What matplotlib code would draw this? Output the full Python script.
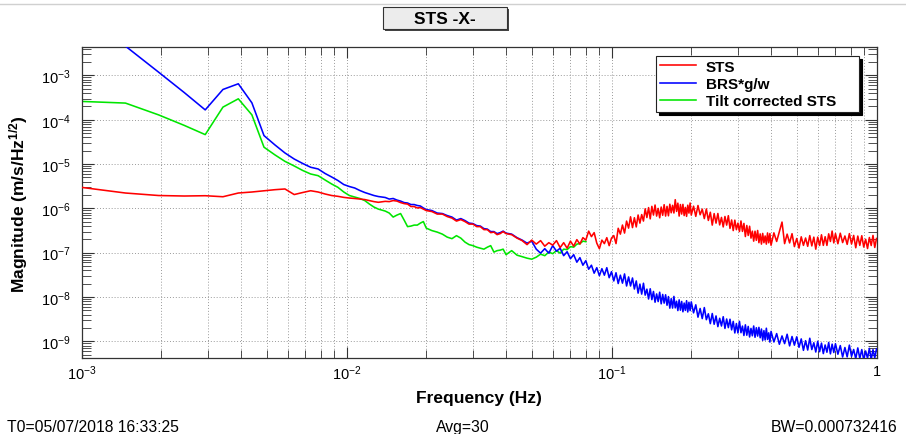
import matplotlib
matplotlib.use("Agg")
import matplotlib.pyplot as plt
from matplotlib.patches import Rectangle
from matplotlib.lines import Line2D
from matplotlib.ticker import LogLocator, FixedLocator, FixedFormatter, NullFormatter

# ---------------------------------------------------------------- data
# coarse FFT bins at the low end (spacing 1/2048 Hz)
freq_bins = [0.000977, 0.001465, 0.001953, 0.002441, 0.002930, 0.003418, 0.003906,
             0.004395, 0.004883, 0.005371, 0.005859, 0.006348, 0.006836, 0.007324,
             0.007813, 0.008301, 0.008789, 0.009277, 0.009766, 0.010254, 0.010742,
             0.011230, 0.011719, 0.012207, 0.012695, 0.013184]

sts_bins = [3.03e-6, 2.22e-6, 1.95e-6, 1.90e-6, 1.93e-6, 1.83e-6, 2.22e-6, 2.34e-6,
            2.50e-6, 2.64e-6, 2.74e-6, 2.05e-6, 2.28e-6, 2.50e-6, 2.34e-6, 2.11e-6,
            1.95e-6, 1.87e-6, 1.77e-6, 1.71e-6, 1.67e-6, 1.62e-6, 1.58e-6, 1.50e-6,
            1.42e-6, 1.37e-6]

brs_bins = [1.5e-2, 4.6e-3, 1.19e-3, 4.12e-4, 1.67e-4, 4.83e-4, 6.49e-4, 2.41e-4,
            4.39e-5, 2.70e-5, 1.78e-5, 1.30e-5, 1.03e-5, 8.47e-6, 7.75e-6, 6.13e-6,
            5.11e-6, 4.26e-6, 3.45e-6, 3.11e-6, 2.88e-6, 2.53e-6, 2.28e-6, 2.11e-6,
            1.95e-6, 1.85e-6]

tilt_bins = [2.61e-4, 2.38e-4, 1.29e-4, 7.47e-5, 4.62e-5, 1.93e-4, 2.97e-4, 1.29e-4,
             2.40e-5, 1.61e-5, 1.15e-5, 9.06e-6, 7.16e-6, 5.97e-6, 5.47e-6, 4.37e-6,
             3.55e-6, 2.99e-6, 2.34e-6, 1.95e-6, 1.80e-6, 1.67e-6, 1.50e-6, 1.25e-6,
             1.07e-6, 9.63e-7]

# 0.014 - 0.1 Hz
freq_mid = [0.0140, 0.0145, 0.0150, 0.0155, 0.0160, 0.0165, 0.0170, 0.0175, 0.0180,
            0.0185, 0.0190, 0.0195, 0.0200,
            0.021, 0.022, 0.023, 0.024, 0.025, 0.026, 0.027, 0.028, 0.029, 0.030,
            0.031, 0.032, 0.033, 0.034, 0.035, 0.036, 0.037, 0.038, 0.039, 0.040,
            0.042, 0.044, 0.046, 0.048, 0.050, 0.052, 0.054, 0.056, 0.058, 0.060,
            0.062, 0.064, 0.066, 0.068, 0.070, 0.072, 0.074, 0.076, 0.078, 0.080,
            0.082, 0.084, 0.086, 0.088, 0.090, 0.092, 0.094, 0.096, 0.098, 0.100]

sts_mid = [1.44e-6, 1.42e-6, 1.50e-6, 1.46e-6, 1.35e-6, 1.28e-6, 1.25e-6, 1.10e-6,
           1.10e-6, 1.02e-6, 1.04e-6, 9.64e-7, 8.92e-7,
           8.47e-7, 7.43e-7, 7.43e-7, 6.52e-7, 6.03e-7, 5.16e-7, 5.58e-7, 5.03e-7,
           4.41e-7, 4.41e-7, 3.87e-7, 3.87e-7, 3.31e-7, 3.31e-7, 2.83e-7, 2.91e-7,
           2.55e-7, 2.69e-7, 2.99e-7, 2.69e-7,
           2.55e-7, 2.13e-7, 1.87e-7, 1.52e-7, 1.92e-7, 1.56e-7, 1.87e-7, 1.40e-7,
           1.68e-7, 1.48e-7, 1.87e-7, 1.30e-7, 1.68e-7, 1.26e-7, 1.82e-7, 1.40e-7,
           1.97e-7, 1.56e-7, 2.18e-7, 1.92e-7, 3.06e-7, 2.30e-7, 2.83e-7, 1.64e-7,
           1.23e-7, 1.92e-7, 1.60e-7, 2.18e-7, 1.44e-7, 2.13e-7]

brs_mid = [1.76e-6, 1.62e-6, 1.67e-6, 1.54e-6, 1.46e-6, 1.35e-6, 1.32e-6, 1.22e-6,
           1.22e-6, 1.16e-6, 1.13e-6, 1.02e-6, 9.39e-7,
           8.92e-7, 7.83e-7, 7.63e-7, 6.87e-7, 6.36e-7, 5.44e-7, 5.88e-7, 5.30e-7,
           4.65e-7, 4.53e-7, 4.08e-7, 3.98e-7, 3.49e-7, 3.40e-7, 2.99e-7, 2.99e-7,
           2.69e-7, 2.83e-7, 3.06e-7, 2.76e-7,
           2.62e-7, 2.18e-7, 1.92e-7, 1.64e-7, 1.82e-7, 1.20e-7, 9.74e-8, 1.23e-7,
           9.74e-8, 1.44e-7, 1.08e-7, 1.26e-7, 8.55e-8, 1.05e-7, 7.31e-8, 9.01e-8,
           6.10e-8, 7.71e-8, 5.21e-8, 6.59e-8, 4.23e-8, 5.21e-8, 3.44e-8, 4.58e-8,
           3.02e-8, 4.35e-8, 3.10e-8, 4.58e-8, 2.72e-8, 3.72e-8]

# tilt-corrected STS follows the STS trace above ~0.08 Hz
tilt_mid = [8.69e-7, 7.83e-7, 6.36e-7, 7.05e-7, 7.63e-7, 5.44e-7, 3.87e-7, 3.98e-7,
            4.19e-7, 4.19e-7, 4.65e-7, 5.03e-7, 3.58e-7,
            3.15e-7, 2.91e-7, 2.62e-7, 2.24e-7, 2.07e-7, 2.42e-7, 2.13e-7, 1.73e-7,
            1.52e-7, 1.44e-7, 1.33e-7, 1.26e-7, 1.20e-7, 1.33e-7, 1.44e-7, 1.03e-7,
            1.11e-7, 1.14e-7, 1.20e-7, 9.01e-8,
            1.11e-7, 8.78e-8, 8.12e-8, 7.51e-8, 7.13e-8, 7.91e-8, 9.25e-8, 8.55e-8,
            1.03e-7, 9.49e-8, 1.11e-7, 9.74e-8, 1.20e-7, 1.17e-7, 1.37e-7, 1.33e-7,
            1.56e-7, 1.60e-7, 1.82e-7, 1.77e-7]

# 0.1 - 1 Hz, where the noise fills a band
freq_hi = [0.102, 0.104, 0.106, 0.108, 0.110, 0.112, 0.114, 0.116, 0.118, 0.120,
           0.122, 0.124, 0.126, 0.128, 0.130, 0.132, 0.134, 0.136, 0.138, 0.140,
           0.142, 0.144, 0.146, 0.148, 0.150, 0.152, 0.154, 0.156, 0.158, 0.160,
           0.162, 0.164, 0.166, 0.168, 0.170, 0.172, 0.174, 0.176, 0.178, 0.180,
           0.182, 0.184, 0.186, 0.188, 0.190, 0.192, 0.194, 0.196, 0.198, 0.200,
           0.204, 0.208, 0.212, 0.216, 0.220, 0.224, 0.228, 0.232, 0.236, 0.240,
           0.244, 0.248, 0.252, 0.256, 0.260, 0.264, 0.268, 0.272, 0.276, 0.280,
           0.284, 0.288, 0.292, 0.296, 0.300, 0.304, 0.308, 0.312, 0.316, 0.320,
           0.324, 0.328, 0.332, 0.336, 0.340, 0.344, 0.348, 0.352, 0.356, 0.360,
           0.364, 0.368, 0.372, 0.376, 0.380, 0.384, 0.388, 0.392, 0.396, 0.400,
           0.41, 0.42, 0.43, 0.44, 0.45, 0.46, 0.47, 0.48, 0.49, 0.50,
           0.51, 0.52, 0.53, 0.54, 0.55, 0.56, 0.57, 0.58, 0.59, 0.60,
           0.61, 0.62, 0.63, 0.64, 0.65, 0.66, 0.67, 0.68, 0.69, 0.70,
           0.715, 0.730, 0.745, 0.760, 0.775, 0.790, 0.805, 0.820, 0.835, 0.850,
           0.865, 0.880, 0.895, 0.910, 0.925, 0.940, 0.955, 0.970, 0.985, 1.000]

sts_hi = [2.43e-7, 1.60e-7, 3.55e-7, 2.62e-7, 4.20e-7, 2.77e-7, 5.16e-7, 3.58e-7,
          6.45e-7, 3.68e-7, 6.14e-7, 3.81e-7, 7.08e-7, 4.64e-7, 7.24e-7, 5.17e-7,
          9.77e-7, 6.20e-7, 1.04e-6, 5.80e-7, 1.11e-6, 7.06e-7, 1.19e-6, 6.70e-7,
          9.97e-7, 6.13e-7, 1.07e-6, 6.97e-7, 1.21e-6, 6.70e-7, 1.11e-6, 6.80e-7,
          1.24e-6, 7.95e-7, 1.17e-6, 7.86e-7, 1.57e-6, 8.53e-7, 1.31e-6, 6.70e-7,
          1.22e-6, 7.43e-7, 1.23e-6, 6.88e-7, 1.05e-6, 6.60e-7, 1.18e-6, 7.82e-7,
          1.32e-6, 7.05e-7,
          1.12e-6, 6.60e-7, 1.16e-6, 7.17e-7, 9.60e-7, 5.88e-7, 9.69e-7, 5.34e-7,
          8.17e-7, 4.19e-7, 7.61e-7, 4.64e-7, 7.66e-7, 4.23e-7, 6.24e-7, 3.81e-7,
          6.55e-7, 4.19e-7, 6.83e-7, 3.53e-7, 5.47e-7, 3.15e-7, 5.42e-7, 3.30e-7,
          4.64e-7, 3.00e-7, 5.19e-7, 3.02e-7, 4.57e-7, 2.31e-7, 4.11e-7, 2.45e-7,
          3.95e-7, 2.13e-7, 3.06e-7, 1.82e-7, 3.05e-7, 1.90e-7, 3.17e-7, 1.68e-7,
          2.65e-7, 1.56e-7, 2.72e-7, 1.68e-7, 2.38e-7, 1.56e-7, 2.79e-7, 1.67e-7,
          2.70e-7, 1.47e-7,
          2.80e-7, 1.79e-7, 2.97e-7, 4.90e-7, 1.60e-7, 2.62e-7, 1.66e-7, 2.68e-7,
          1.37e-7, 2.09e-7, 1.27e-7, 2.28e-7, 1.46e-7, 2.14e-7, 1.39e-7, 2.43e-7,
          1.42e-7, 2.24e-7, 1.20e-7, 2.24e-7, 1.45e-7, 2.53e-7, 1.46e-7, 2.29e-7,
          1.46e-7, 2.66e-7, 1.79e-7, 3.07e-7, 1.66e-7, 2.69e-7,
          1.59e-7, 2.75e-7, 1.69e-7, 2.38e-7, 1.54e-7, 2.69e-7, 1.57e-7, 2.45e-7,
          1.29e-7, 2.37e-7, 1.46e-7, 2.41e-7, 1.34e-7, 2.01e-7, 1.24e-7, 2.20e-7,
          1.45e-7, 2.45e-7, 1.31e-7, 2.09e-7]

brs_hi = [2.30e-8, 3.52e-8, 2.01e-8, 3.10e-8, 2.05e-8, 3.31e-8, 1.77e-8, 2.83e-8,
          1.77e-8, 2.68e-8, 1.51e-8, 2.30e-8, 1.22e-8, 1.95e-8, 1.16e-8, 2.04e-8,
          1.10e-8, 1.50e-8, 9.00e-9, 1.53e-8, 8.71e-9, 1.33e-8, 7.61e-9, 1.17e-8,
          7.87e-9, 1.28e-8, 7.00e-9, 1.14e-8, 7.26e-9, 1.12e-8, 6.50e-9, 1.02e-8,
          5.59e-9, 9.15e-9, 5.61e-9, 1.03e-8, 5.67e-9, 8.00e-9, 4.93e-9, 8.60e-9,
          5.03e-9, 7.92e-9, 4.63e-9, 7.28e-9, 4.98e-9, 8.24e-9, 4.58e-9, 7.59e-9,
          4.92e-9, 7.75e-9,
          4.38e-9, 6.65e-9, 3.50e-9, 5.49e-9, 3.25e-9, 5.76e-9, 3.07e-9, 4.17e-9,
          2.50e-9, 4.23e-9, 2.42e-9, 3.73e-9, 2.14e-9, 3.30e-9, 2.21e-9, 3.58e-9,
          1.95e-9, 3.18e-9, 2.03e-9, 3.14e-9, 1.81e-9, 2.81e-9, 1.54e-9, 2.51e-9,
          1.54e-9, 2.82e-9, 1.56e-9, 2.20e-9, 1.35e-9, 2.35e-9, 1.37e-9, 2.16e-9,
          1.25e-9, 1.95e-9, 1.33e-9, 2.21e-9, 1.23e-9, 2.02e-9, 1.31e-9, 2.06e-9,
          1.20e-9, 1.89e-9, 1.05e-9, 1.74e-9, 1.07e-9, 1.97e-9, 1.10e-9, 1.55e-9,
          9.59e-10, 1.67e-9,
          9.64e-10, 1.49e-9, 8.56e-10, 1.32e-9, 8.85e-10, 1.44e-9, 7.86e-10, 1.28e-9,
          8.16e-10, 1.26e-9, 7.30e-10, 1.13e-9, 6.24e-10, 1.03e-9, 6.34e-10, 1.17e-9,
          6.50e-10, 9.25e-10, 5.72e-10, 1.00e-9, 5.81e-10, 9.07e-10, 5.27e-10, 8.24e-10,
          5.65e-10, 9.39e-10, 5.20e-10, 8.60e-10, 5.58e-10, 8.79e-10,
          5.10e-10, 7.98e-10, 4.41e-10, 7.23e-10, 4.44e-10, 8.18e-10, 4.56e-10, 6.52e-10,
          4.05e-10, 7.07e-10, 4.11e-10, 6.49e-10, 3.81e-10, 6.03e-10, 4.14e-10, 6.92e-10,
          3.87e-10, 6.47e-10, 4.23e-10, 6.74e-10]

legend_labels = ["STS", "BRS*g/w", "Tilt corrected STS"]
x_ticks = [1e-3, 1e-2, 1e-1, 1.0]
x_tick_labels = [r"$10^{-3}$", r"$10^{-2}$", r"$10^{-1}$", "1"]
y_ticks = [1e-9, 1e-8, 1e-7, 1e-6, 1e-5, 1e-4, 1e-3]
y_tick_labels = [r"$10^{-9}$", r"$10^{-8}$", r"$10^{-7}$", r"$10^{-6}$",
                 r"$10^{-5}$", r"$10^{-4}$", r"$10^{-3}$"]

# ---------------------------------------------------------------- style
plt.rcParams['font.family'] = ['Liberation Sans', 'DejaVu Sans']
plt.rcParams['mathtext.fontset'] = 'custom'
plt.rcParams['mathtext.rm'] = 'Liberation Sans'
plt.rcParams['mathtext.it'] = 'Liberation Sans:italic'
plt.rcParams['mathtext.bf'] = 'Liberation Sans:bold'

W, H = 906, 435
fig = plt.figure(figsize=(W / 100, H / 100), dpi=100)
fig.patch.set_facecolor('white')


def fx(px):
    return px / W


def fy(py):
    return 1 - py / H


ax = fig.add_axes([fx(81.5), fy(359), (876.5 - 81.5) / W, (359 - 48) / H])

RED, BLUE, GREEN = '#ff0000', '#0000ff', '#00e600'
LW = 1.15

freq_all = freq_bins + freq_mid + freq_hi
n_t = len(freq_bins) + len(tilt_mid)
l_tilt, = ax.plot(freq_all[:n_t], tilt_bins + tilt_mid, color=GREEN, lw=LW, zorder=2)
l_brs, = ax.plot(freq_all, brs_bins + brs_mid + brs_hi, color=BLUE, lw=LW, zorder=3)
l_sts, = ax.plot(freq_all, sts_bins + sts_mid + sts_hi, color=RED, lw=LW, zorder=4)

ax.set_xscale('log')
ax.set_yscale('log')
ax.set_xlim(1e-3, 1.0)
ax.set_ylim(4.19e-10, 4.39e-3)

ax.xaxis.set_major_locator(FixedLocator(x_ticks))
ax.xaxis.set_major_formatter(FixedFormatter(x_tick_labels))
ax.xaxis.set_minor_locator(LogLocator(base=10, subs=range(2, 10), numticks=30))
ax.xaxis.set_minor_formatter(NullFormatter())
ax.yaxis.set_major_locator(FixedLocator(y_ticks))
ax.yaxis.set_major_formatter(FixedFormatter(y_tick_labels))
ax.yaxis.set_minor_locator(LogLocator(base=10, subs=range(2, 10), numticks=30))
ax.yaxis.set_minor_formatter(NullFormatter())

ax.tick_params(axis='both', which='both', direction='in', top=True, right=True,
               color='#333333', labelcolor='black')
ax.tick_params(axis='y', which='major', length=8.5, width=0.8, pad=8, labelsize=10.5)
ax.tick_params(axis='y', which='minor', length=6.5, width=0.6)
ax.tick_params(axis='x', which='major', length=8.0, width=0.8, pad=4, labelsize=10.5)
ax.tick_params(axis='x', which='minor', length=5.5, width=0.6)

grid_kw = dict(color='#9a9a9a', linestyle=(0, (1, 2)), linewidth=0.7)
ax.xaxis.grid(True, which='major', **grid_kw)
ax.xaxis.grid(True, which='minor', **grid_kw)
ax.yaxis.grid(True, which='major', **grid_kw)
ax.set_axisbelow(True)
for sp in ax.spines.values():
    sp.set_color('#333333')
    sp.set_linewidth(0.9)

# legend with a hard drop shadow
leg = ax.legend([l_sts, l_brs, l_tilt], legend_labels, loc='upper left',
                bbox_to_anchor=(fx(656), fy(115), (859 - 656) / W, (115 - 57) / H),
                bbox_transform=fig.transFigure, mode='expand', borderaxespad=0,
                frameon=True, fancybox=False,
                shadow={'color': 'black', 'alpha': 1.0},
                prop={'weight': 'bold', 'size': 11}, handlelength=2.4,
                handletextpad=0.6, labelspacing=0.2, borderpad=0.25)
leg.get_frame().set_edgecolor('#222222')
leg.get_frame().set_linewidth(0.8)
leg.set_zorder(10)

# axis labels
fig.text(fx(479), fy(403), "Frequency (Hz)", ha='center', va='baseline',
         fontsize=12.5, fontweight='bold')
fig.text(fx(19), fy(204), r"Magnitude (m/s/Hz$^{\mathbf{1/2}}$)", ha='center',
         va='center', rotation=90, fontsize=12.5, fontweight='bold')

# title box
fig.add_artist(Line2D([0, 1], [fy(5), fy(5)], transform=fig.transFigure,
                      color='#d0d0d0', lw=1.0))
fig.add_artist(Rectangle((fx(385), fy(32)), 124 / W, 22 / H, transform=fig.transFigure,
                         facecolor='#444444', edgecolor='none'))
fig.add_artist(Rectangle((fx(383), fy(30)), 124 / W, 22 / H, transform=fig.transFigure,
                         facecolor='#ececec', edgecolor='#333333', lw=0.8))
fig.text(fx(445), fy(19.5), "STS -X-", ha='center', va='center',
         fontsize=12.5, fontweight='bold')

# footer
fig.text(fx(7), fy(432.5), "T0=05/07/2018 16:33:25", ha='left', va='baseline',
         fontsize=11.3)
fig.text(fx(463), fy(432.5), "Avg=30", ha='center', va='baseline', fontsize=11.3)
fig.text(fx(898), fy(432.5), "BW=0.000732416", ha='right', va='baseline',
         fontsize=11.3)

fig.savefig("out.png", dpi=100, facecolor='white')
